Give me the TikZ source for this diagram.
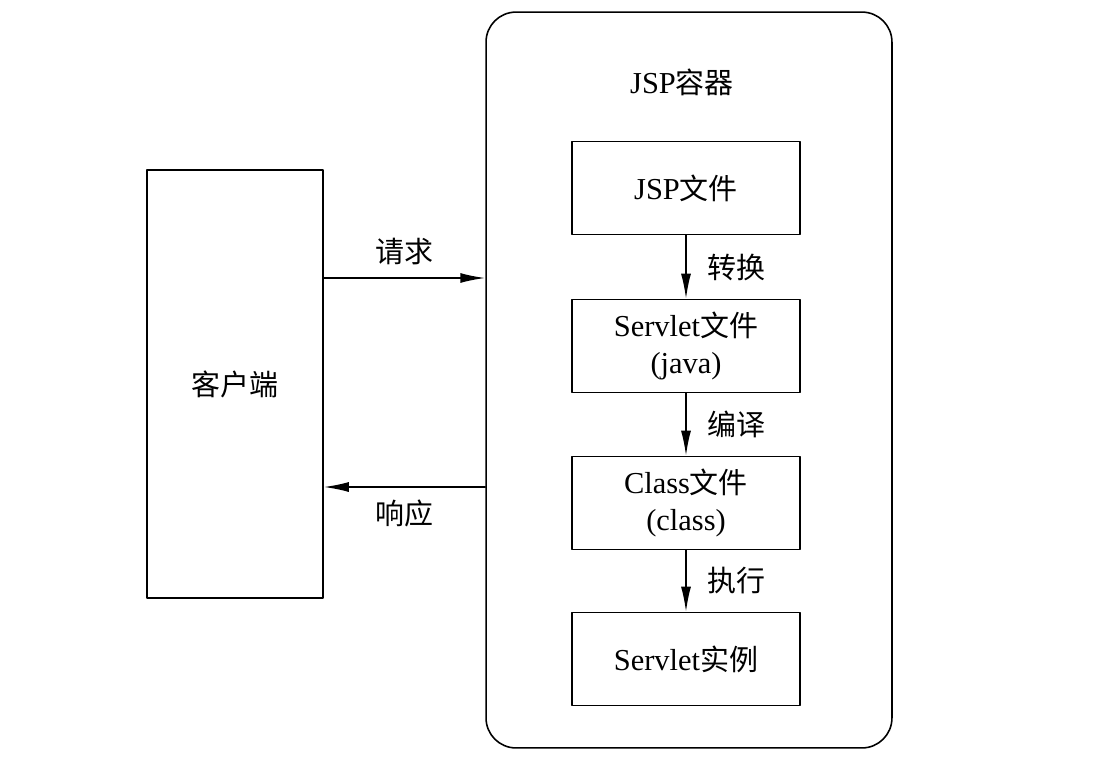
\documentclass[tikz,border=0pt]{standalone}
\usepackage{fontspec}
\setmainfont{Liberation Serif}[Scale=1.05]
\newfontfamily\cjk{Noto Sans CJK SC}
\usetikzlibrary{arrows.meta}
\tikzset{
  box/.style={draw, line width=0.9pt, minimum width=4.56cm, minimum height=1.86cm, align=center},
  flow/.style={-{Latex[length=0.5cm,width=0.2cm]}, line width=0.9pt},
}
\begin{document}
\begin{tikzpicture}[x=0.02cm, y=-0.02cm, font=\fontsize{16.5}{21}\selectfont, line join=round, line cap=round]
	\useasboundingbox (0,0) rectangle (1100,762);
	\node[draw, line width=0.9pt, rounded corners=0.6cm, minimum width=8.12cm, minimum height=14.72cm] (container) at (689,380) {};
	\node (title) at (682,82) {JSP{\cjk 容器}};
	\node[draw, line width=0.9pt, minimum width=3.52cm, minimum height=8.56cm] (client) at (235,384) {{\cjk 客户端}};
	\node[box] (jsp) at (686,188) {JSP{\cjk 文件}};
	\node[box] (servlet) at (686,346) {Servlet{\cjk 文件}\\(java)};
	\node[box] (class) at (686,503) {Class{\cjk 文件}\\(class)};
	\node[box] (inst) at (686,659) {Servlet{\cjk 实例}};
	\coordinate (req) at (404,278);
	\coordinate (resp) at (404,487);
	\draw[flow] (client.east |- req) -- (container.west |- req) node[pos=0.5, above=0.12cm] {{\cjk 请求}};
	\draw[flow] (container.west |- resp) -- (client.east |- resp) node[pos=0.5, below=0.12cm] {{\cjk 响应}};
	\draw[flow] (jsp) -- (servlet) node[pos=0.5, right=0.3cm] {{\cjk 转换}};
	\draw[flow] (servlet) -- (class) node[pos=0.5, right=0.3cm] {{\cjk 编译}};
	\draw[flow] (class) -- (inst) node[pos=0.5, right=0.3cm] {{\cjk 执行}};
\end{tikzpicture}
\end{document}
